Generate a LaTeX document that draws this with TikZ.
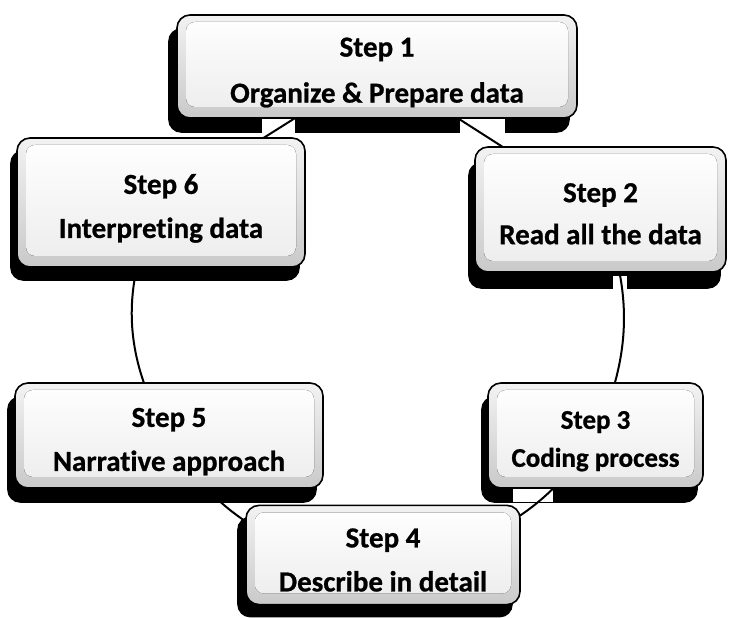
\documentclass[tikz,border=0pt]{standalone}
\usepackage{fontspec}
\setmainfont{Carlito}[Ligatures=NoCommon, BoldFeatures={FakeBold=0.8}]
\usetikzlibrary{backgrounds}
\pgfdeclarelayer{shadowlayer}
\pgfdeclarelayer{linklayer}
\pgfsetlayers{background,shadowlayer,linklayer,main}
\newcommand\steplabel[3][40pt]{\begin{tabular}{@{}c@{}}\rule{0pt}{#1}#2\\#3\end{tabular}}
\begin{document}
\begin{tikzpicture}[x=1pt,y=1pt,
  stepbox/.style={rounded corners=13pt, draw=black, line width=1.6pt,
    font=\bfseries\fontsize{29}{44}\selectfont, inner sep=0pt,
    top color=gray!10, bottom color=gray!42,
    path picture={\fill[rounded corners=9pt, top color=white, bottom color=gray!15]
      ([shift={(9pt,-7pt)}]path picture bounding box.north west) rectangle
      ([shift={(-9pt,11pt)}]path picture bounding box.south east);}},
  boxshadow/.style={fill=black, rounded corners=13pt},
  patch/.style={fill=white},
  link/.style={line width=2pt, draw=black}]
\useasboundingbox (0,0) rectangle (729,618);
\node[stepbox, minimum width=400pt, minimum height=103pt, font=\bfseries\fontsize{29}{46}\selectfont] (s1) at (377,551.5) {\steplabel{Step 1}{Organize \& Prepare data}};
\node[stepbox, minimum width=288pt, minimum height=129pt] (s6) at (161,415.5) {\steplabel{Step 6}{Interpreting data}};
\node[stepbox, minimum width=251pt, minimum height=125pt, font=\bfseries\fontsize{29}{42}\selectfont] (s2) at (600.5,408.5) {\steplabel{Step 2}{Read all the data}};
\node[stepbox, minimum width=308pt, minimum height=105pt] (s5) at (169,182.5) {\steplabel{Step 5}{Narrative approach}};
\node[stepbox, minimum width=215pt, minimum height=105pt, font=\bfseries\fontsize{27}{38}\selectfont] (s3) at (595.5,182.5) {\steplabel[36pt]{Step 3}{Coding process}};
\node[stepbox, minimum width=274pt, minimum height=96pt] (s4) at (383,63) {\steplabel[42pt]{Step 4}{Describe in detail}};
\begin{pgfonlayer}{background}
\fill[white] (0,0) rectangle (729,618);
\end{pgfonlayer}
\begin{pgfonlayer}{shadowlayer}
\foreach \n/\dx/\dy in {s1/-8/-14, s6/-6/-13, s2/-6/-16, s5/-7/-14, s3/-6/-14, s4/-8/-12}
  \fill[boxshadow] ([shift={(\dx pt,\dy pt)}]\n.south west) rectangle ([shift={(\dx pt,\dy pt)}]\n.north east);
\end{pgfonlayer}
\begin{pgfonlayer}{linklayer}
\fill[patch] (262,476) rectangle (295,500);
\fill[patch] (460,473) rectangle (505,500);
\fill[patch] (613,328) rectangle (627,342);
\fill[patch] (513,116) rectangle (553,131);
\draw[link] (s1.center) -- (s2.center);
\draw[link] (s2.center) to[bend left=23] (s3.center);
\draw[link] (s3.center) to[bend left=28] (s4.center);
\draw[link] (s4.center) to[bend left=32] (s5.center);
\draw[link] (s5.center) to[bend left=29] (s6.center);
\draw[link] (s6.center) -- (s1.center);
\end{pgfonlayer}
\end{tikzpicture}
\end{document}
